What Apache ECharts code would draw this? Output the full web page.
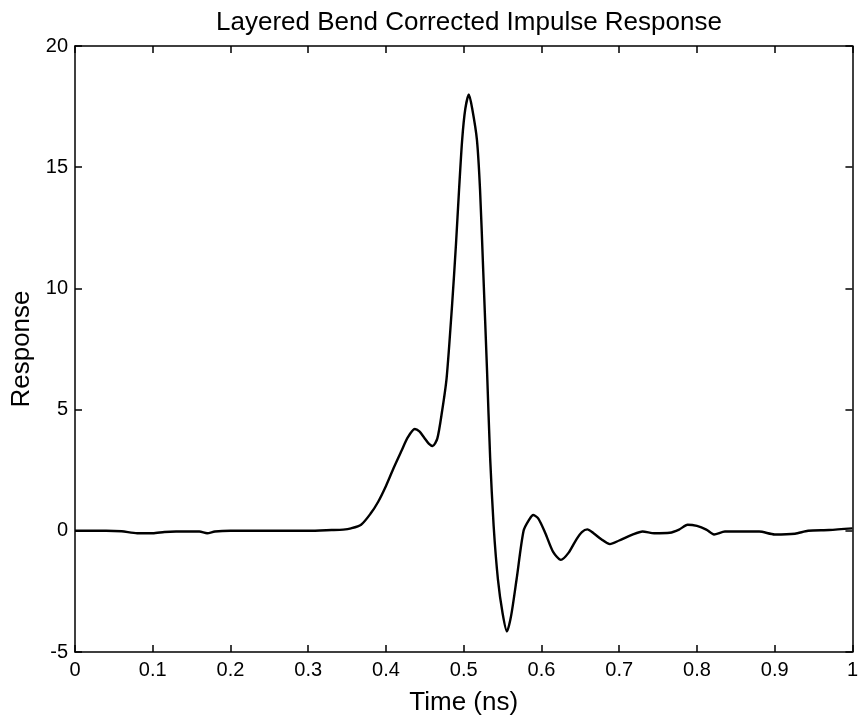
<!DOCTYPE html>
<html>
<head>
<meta charset="utf-8">
<script src="https://cdn.jsdelivr.net/npm/echarts@6/dist/echarts.min.js"></script>
<style>
html,body{margin:0;padding:0;background:#fff;}
#chart{width:861px;height:721px;}
</style>
</head>
<body>
<div id="chart"></div>
<script>
const titleText = "Layered Bend Corrected Impulse Response";
const xLabel = "Time (ns)";
const yLabel = "Response";
const xTicks = [0, 0.1, 0.2, 0.3, 0.4, 0.5, 0.6, 0.7, 0.8, 0.9, 1];
const yTicks = [-5, 0, 5, 10, 15, 20];

const times = [0, 0.04, 0.06, 0.08, 0.1, 0.115, 0.13, 0.16, 0.17, 0.18, 0.2, 0.25, 0.3, 0.33, 0.345, 0.355, 0.368, 0.38, 0.39, 0.4, 0.41, 0.42, 0.428, 0.437, 0.443, 0.449, 0.455, 0.46, 0.466, 0.472, 0.478, 0.485, 0.49, 0.494, 0.498, 0.502, 0.5066, 0.511, 0.517, 0.521, 0.525, 0.53, 0.534, 0.5385, 0.544, 0.55, 0.5556, 0.561, 0.568, 0.577, 0.584, 0.5896, 0.596, 0.605, 0.615, 0.625, 0.635, 0.645, 0.652, 0.659, 0.667, 0.677, 0.688, 0.7, 0.717, 0.73, 0.745, 0.765, 0.777, 0.788, 0.8, 0.812, 0.822, 0.836, 0.88, 0.9, 0.926, 0.943, 0.97, 1.0];
const response = [0, 0, -0.02, -0.1, -0.1, -0.05, -0.03, -0.03, -0.1, -0.03, 0, 0, 0, 0.03, 0.05, 0.1, 0.25, 0.7, 1.2, 1.85, 2.6, 3.3, 3.85, 4.2, 4.1, 3.85, 3.6, 3.5, 3.8, 4.9, 6.3, 9.3, 11.8, 14.07, 16.13, 17.4, 18, 17.4, 16.13, 14.07, 10.8, 6.6, 3.0, 0.2, -2, -3.4, -4.15, -3.5, -2, 0, 0.45, 0.65, 0.5, -0.1, -0.87, -1.2, -0.9, -0.35, -0.05, 0.06, -0.1, -0.35, -0.55, -0.4, -0.16, -0.03, -0.1, -0.08, 0.05, 0.25, 0.2, 0.05, -0.15, -0.03, -0.03, -0.15, -0.12, 0, 0.03, 0.1];

const FONT = "'Liberation Sans', Arial, Helvetica, sans-serif";
const seriesData = times.map((t, i) => [t, response[i]]);
const xMin = xTicks[0], xMax = xTicks[xTicks.length - 1];
const yMin = yTicks[0], yMax = yTicks[yTicks.length - 1];
const xInt = 0.1, yInt = 5;

const axisLine = {show: true, onZero: false, lineStyle: {color: '#000', width: 1.5}};
const tick = {show: true, inside: true, length: 7, lineStyle: {color: '#000', width: 1.5}};
const lab = {color: '#000', fontSize: 20, fontFamily: FONT};

const chart = echarts.init(document.getElementById('chart'), null, {renderer: 'canvas'});
chart.setOption({
  animation: false,
  backgroundColor: '#fff',
  title: {
    text: titleText, left: 464, top: 5, textAlign: 'center',
    textStyle: {color: '#000', fontSize: 26, fontWeight: 'normal', fontFamily: FONT}
  },
  grid: {left: 75, right: 3, top: 46, bottom: 67},
  xAxis: [{
    type: 'value', min: xMin, max: xMax, interval: xInt, position: 'bottom',
    name: xLabel, nameLocation: 'middle', nameGap: 38,
    nameTextStyle: {color: '#000', fontSize: 26, fontFamily: FONT},
    axisLine: axisLine, axisTick: tick,
    axisLabel: Object.assign({margin: 8, formatter: v => String(+v.toFixed(1))}, lab),
    splitLine: {show: false}
  }, {
    type: 'value', min: xMin, max: xMax, interval: xInt, position: 'top',
    axisLine: axisLine, axisTick: tick, axisLabel: {show: false}, splitLine: {show: false}
  }],
  yAxis: [{
    type: 'value', min: yMin, max: yMax, interval: yInt, position: 'left',
    name: yLabel, nameLocation: 'middle', nameGap: 33, nameRotate: 90,
    nameTextStyle: {color: '#000', fontSize: 26, fontFamily: FONT},
    axisLine: axisLine, axisTick: tick,
    axisLabel: Object.assign({margin: 7}, lab),
    splitLine: {show: false}
  }, {
    type: 'value', min: yMin, max: yMax, interval: yInt, position: 'right',
    axisLine: axisLine, axisTick: tick, axisLabel: {show: false}, splitLine: {show: false}
  }],
  series: [{
    type: 'line', data: seriesData, xAxisIndex: 0, yAxisIndex: 0,
    showSymbol: false, smooth: 0.25,
    lineStyle: {color: '#000', width: 2.4}
  }]
});
</script>
</body>
</html>
